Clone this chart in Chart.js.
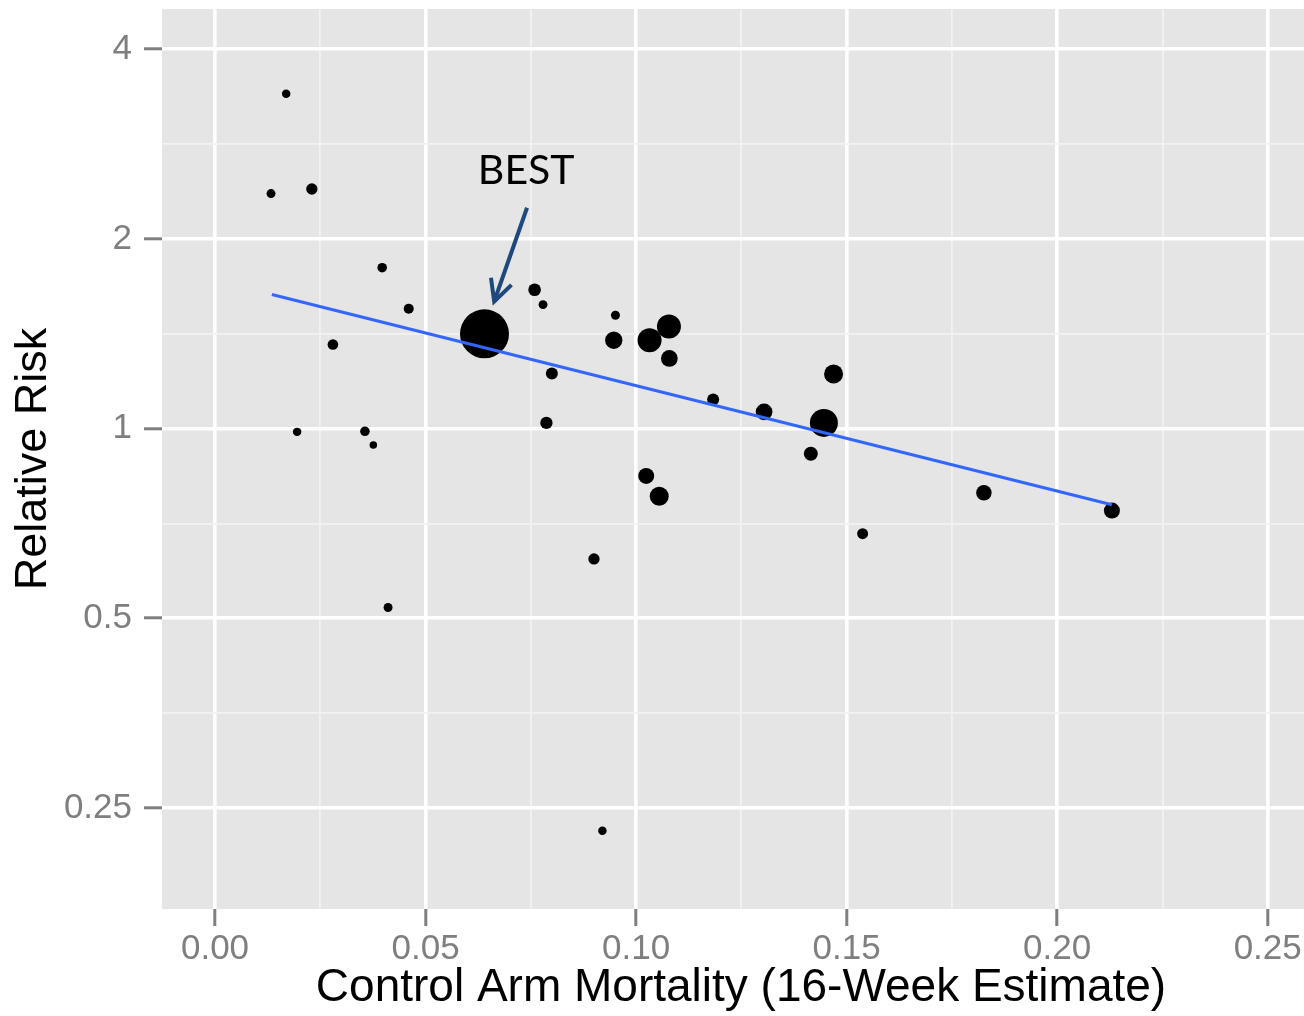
<!DOCTYPE html>
<html>
<head>
<meta charset="utf-8">
<script src="https://cdn.jsdelivr.net/npm/chart.js@4.4.1/dist/chart.umd.min.js"></script>
<style>
  html, body { margin: 0; padding: 0; background: #ffffff; overflow: hidden; }
  #wrap { width: 1304px; height: 1016px; }
</style>
</head>
<body>
<div id="wrap"><canvas id="c" width="1304" height="1016"></canvas></div>
<script>
// ---- data ----
const mortality = [0.0169, 0.0133, 0.0230, 0.0397, 0.0460, 0.0280, 0.0195, 0.0356, 0.0376, 0.0411,
                   0.0640, 0.0759, 0.0779, 0.0951, 0.0947, 0.1032, 0.1078, 0.1079, 0.0800, 0.0787,
                   0.1183, 0.1304, 0.1469, 0.1446, 0.1415, 0.1024, 0.1055, 0.1538, 0.0900, 0.0920,
                   0.1826, 0.2130];
const relativeRisk = [3.40, 2.36, 2.40, 1.80, 1.55, 1.36, 0.988, 0.990, 0.942, 0.520,
                      1.414, 1.661, 1.573, 1.513, 1.381, 1.381, 1.452, 1.292, 1.223, 1.021,
                      1.112, 1.063, 1.221, 1.021, 0.912, 0.841, 0.781, 0.681, 0.621, 0.230,
                      0.791, 0.741];
const trialWeight = [18, 20, 32, 23, 25, 28, 18, 23, 14, 20,
                     600, 40, 20, 20, 75, 144, 144, 70, 36, 38,
                     36, 70, 90, 196, 49, 64, 90, 30, 32, 18,
                     60, 64];
const fitX = [0.0135, 0.2130];
const fitY = [1.632, 0.757];

const xTickValues = [0, 0.05, 0.10, 0.15, 0.20, 0.25];
const xTickLabels = ['0.00', '0.05', '0.10', '0.15', '0.20', '0.25'];
const yTickValues = [0.25, 0.5, 1, 2, 4];
const yTickLabels = ['0.25', '0.5', '1', '2', '4'];

const xTitle = 'Control Arm Mortality (16-Week Estimate)';
const yTitle = 'Relative Risk';

const annotationText = 'BEST';
const annotationLabelAt = { x: 0.0739, y: 2.564 };
const arrowFrom = { x: 0.0741, y: 2.241 };
const arrowTo = { x: 0.0663, y: 1.591 };

// ---- helpers ----
const AXIS_FONT = '"Liberation Sans", Arial, sans-serif';
const PANEL_TOP = 9;
const PANEL_OVERHANG_RIGHT = 16;   // the panel continues past the right edge of the picture

function labelFor(values, labels, v) {
  for (let i = 0; i < values.length; i++) {
    if (Math.abs(values[i] - v) < 1e-9 * Math.max(1, Math.abs(v)) + 1e-12) return labels[i];
  }
  return '';
}

function buildTicksWithMinor(values, geometric) {
  const t = [];
  values.forEach((v, i) => {
    t.push({ value: v });
    if (i < values.length - 1) {
      const n = values[i + 1];
      t.push({ value: geometric ? Math.sqrt(v * n) : (v + n) / 2, minor: true });
    }
  });
  return t;
}

function fixPadding(s) {
  s.paddingLeft = 0;
  s.paddingTop = PANEL_TOP;
  s.paddingRight = 0;
  s.paddingBottom = 0;
}

const gridOpts = {
  color: ctx => (ctx.tick && ctx.tick.minor) ? '#F2F2F2' : '#FFFFFF',
  lineWidth: ctx => (ctx.tick && ctx.tick.minor) ? 1.8 : 3.6,
  tickColor: ctx => (ctx.tick && ctx.tick.minor) ? 'rgba(0,0,0,0)' : '#7F7F7F',
  tickWidth: 3,
  drawTicks: true,
  drawOnChartArea: true
};

const extendPanel = {
  id: 'extendPanel',
  afterLayout(chart) {
    const a = chart.chartArea;
    a.right += PANEL_OVERHANG_RIGHT;
    a.width = a.right - a.left;
    const sx = chart.scales.x;
    sx.right += PANEL_OVERHANG_RIGHT;
    sx.width = sx.right - sx.left;
    sx.configure();
  }
};

const panelBackground = {
  id: 'panelBackground',
  beforeDraw(chart) {
    const { ctx, chartArea: a } = chart;
    ctx.save();
    ctx.fillStyle = '#E5E5E5';
    ctx.fillRect(a.left, a.top, a.right - a.left, a.bottom - a.top);
    ctx.restore();
  }
};

const bestAnnotation = {
  id: 'bestAnnotation',
  afterDatasetsDraw(chart) {
    const { ctx } = chart;
    const sx = chart.scales.x, sy = chart.scales.y;
    const P = pt => ({ x: sx.getPixelForValue(pt.x), y: sy.getPixelForValue(pt.y) });
    const lab = P(annotationLabelAt);
    const a0 = P(arrowFrom);
    const a1 = P(arrowTo);
    ctx.save();
    ctx.fillStyle = '#000000';
    ctx.font = '41px Lato, "Open Sans", sans-serif';
    ctx.textAlign = 'center';
    ctx.textBaseline = 'middle';
    ctx.fillText(annotationText, lab.x, lab.y);

    ctx.strokeStyle = '#1F497D';
    ctx.lineWidth = 4;
    ctx.lineCap = 'butt';
    ctx.lineJoin = 'miter';
    ctx.beginPath();
    ctx.moveTo(a0.x, a0.y);
    ctx.lineTo(a1.x, a1.y);
    ctx.stroke();
    const ang = Math.atan2(a0.y - a1.y, a0.x - a1.x);
    const head = 24, spread = 27 * Math.PI / 180;
    ctx.beginPath();
    ctx.moveTo(a1.x + head * Math.cos(ang - spread), a1.y + head * Math.sin(ang - spread));
    ctx.lineTo(a1.x, a1.y);
    ctx.lineTo(a1.x + head * Math.cos(ang + spread), a1.y + head * Math.sin(ang + spread));
    ctx.stroke();
    ctx.restore();
  }
};

const points = mortality.map((x, i) => ({ x: x, y: relativeRisk[i] }));
const fitLine = fitX.map((x, i) => ({ x: x, y: fitY[i] }));

new Chart(document.getElementById('c'), {
  type: 'scatter',
  data: {
    datasets: [
      {
        label: 'fit',
        data: fitLine,
        showLine: true,
        borderColor: '#3366FF',
        borderWidth: 3.2,
        pointRadius: 0,
        fill: false,
        order: 0
      },
      {
        label: 'trials',
        data: points,
        backgroundColor: '#000000',
        borderWidth: 0,
        pointRadius: trialWeight.map(w => Math.sqrt(w)),
        pointHoverRadius: trialWeight.map(w => Math.sqrt(w)),
        order: 1
      }
    ]
  },
  options: {
    responsive: false,
    devicePixelRatio: 1,
    animation: false,
    events: [],
    layout: { autoPadding: false, padding: { top: PANEL_TOP, right: 0, bottom: 0, left: 0 } },
    plugins: { legend: { display: false }, tooltip: { enabled: false } },
    scales: {
      x: {
        type: 'linear',
        position: 'bottom',
        min: -0.01259,
        max: 0.26242,
        afterBuildTicks: s => { s.ticks = buildTicksWithMinor(xTickValues, false); },
        afterFit: s => { s.height = 107; fixPadding(s); },
        grid: Object.assign({ tickLength: 17 }, gridOpts),
        border: { display: false },
        ticks: {
          autoSkip: false, maxRotation: 0, minRotation: 0, padding: 2.5,
          color: '#7F7F7F',
          font: { family: AXIS_FONT, size: 35 },
          callback: (v) => labelFor(xTickValues, xTickLabels, v)
        },
        title: {
          display: true, text: xTitle, color: '#000000',
          font: { family: AXIS_FONT, size: 46 },
          padding: { top: 0, bottom: 0 }
        }
      },
      y: {
        type: 'logarithmic',
        position: 'left',
        min: 0.1728,
        max: 4.633,
        afterBuildTicks: s => { s.ticks = buildTicksWithMinor(yTickValues, true); },
        afterFit: s => { s.width = 162; fixPadding(s); },
        grid: Object.assign({ tickLength: 18 }, gridOpts),
        border: { display: false },
        ticks: {
          autoSkip: false, padding: 12,
          color: '#7F7F7F',
          font: { family: AXIS_FONT, size: 35 },
          callback: (v) => labelFor(yTickValues, yTickLabels, v)
        },
        title: {
          display: true, text: yTitle, color: '#000000',
          font: { family: AXIS_FONT, size: 45 },
          padding: { top: 6.5, bottom: 0 }
        }
      }
    }
  },
  plugins: [extendPanel, panelBackground, bestAnnotation]
});
</script>
</body>
</html>
